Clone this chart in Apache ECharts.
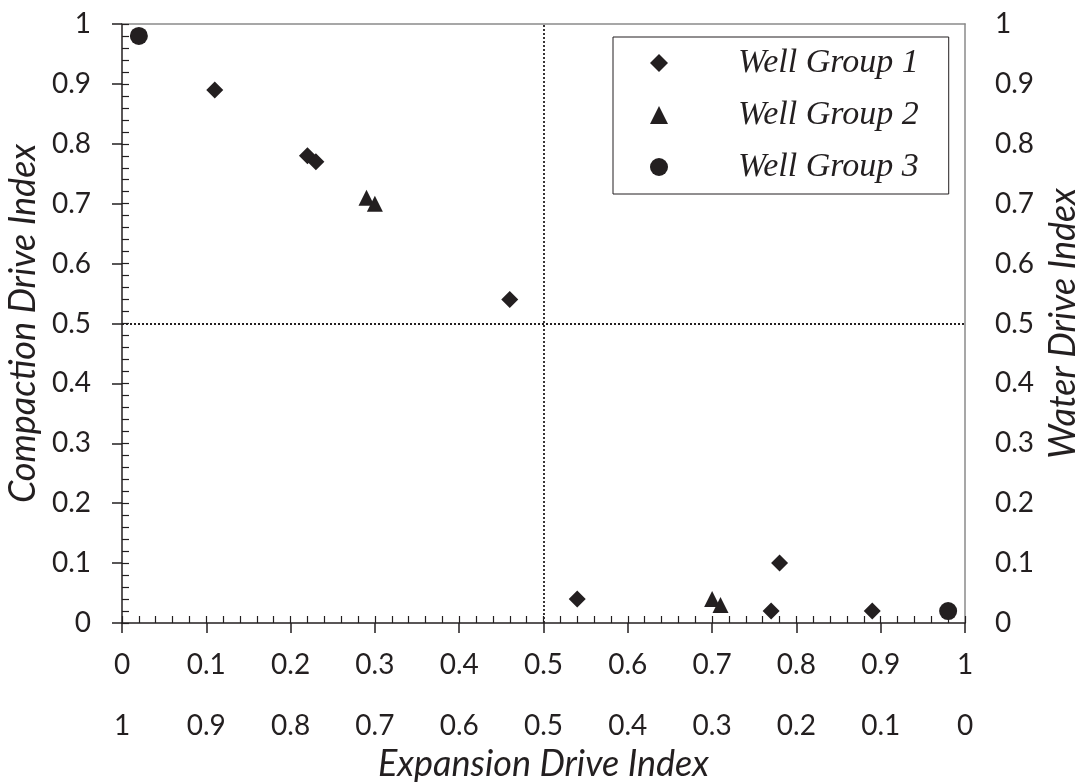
<!DOCTYPE html>
<html>
<head>
<meta charset="utf-8">
<script src="https://cdn.jsdelivr.net/npm/echarts@6/dist/echarts.min.js"></script>
<style>
html,body{margin:0;padding:0;background:#fff;}
#chart{width:1080px;height:783px;}
</style>
</head>
<body>
<div id="chart"></div>
<script>
// ---- data ----
const seriesNames = ['Well Group 1', 'Well Group 2', 'Well Group 3'];
const group1 = [[0.11,0.89],[0.22,0.78],[0.23,0.77],[0.46,0.54],[0.54,0.04],[0.78,0.10],[0.77,0.02],[0.89,0.02]];
const group2 = [[0.29,0.71],[0.30,0.70],[0.70,0.04],[0.71,0.03]];
const group3 = [[0.02,0.98],[0.98,0.02]];
const xTickLabels = ['0','0.1','0.2','0.3','0.4','0.5','0.6','0.7','0.8','0.9','1'];
const xTickLabelsSecondary = ['1','0.9','0.8','0.7','0.6','0.5','0.4','0.3','0.2','0.1','0'];
const yTickLabels = ['0','0.1','0.2','0.3','0.4','0.5','0.6','0.7','0.8','0.9','1'];
const xName = 'Expansion Drive Index';
const yNameLeft = 'Compaction Drive Index';
const yNameRight = 'Water Drive Index';
const threshold = 0.5;

// ---- styles ----
const ink = '#231f20';
const gray = '#8a8a8a';
const sans = 'Lato';
const tickFont = 28;
const nameFont = 36;
const idx = v => Math.round(v * 10);

const chart = echarts.init(document.getElementById('chart'));
const option = {
  animation: false,
  backgroundColor: '#fff',
  grid: { left: 122, top: 24, width: 843, height: 599, containLabel: false, outerBoundsMode: 'none' },
  legend: {
    orient: 'vertical', left: 613, top: 37,
    padding: [9, 30, 10, 37],
    itemWidth: 18, itemHeight: 18, itemGap: 18,
    borderColor: ink, borderWidth: 1,
    data: seriesNames,
    textStyle: {
      fontFamily: 'Liberation Serif', fontStyle: 'italic', fontSize: 34,
      color: ink, lineHeight: 34, padding: [0, 0, 0, 65], width: 180
    }
  },
  xAxis: [
    { // primary bottom axis
      type: 'value', min: 0, max: 1, interval: 0.1, position: 'bottom',
      axisLine: { onZero: false, lineStyle: { color: ink, width: 1.5 } },
      axisTick: { length: 10, lineStyle: { color: ink, width: 1.5 } },
      axisLabel: { margin: 28, fontFamily: sans, fontSize: tickFont, color: ink,
        formatter: v => xTickLabels[idx(v)] },
      splitLine: { show: false }
    },
    { // inside minor ticks
      type: 'value', min: 0, max: 1, interval: 0.02, position: 'bottom',
      axisLine: { show: false, onZero: false },
      axisTick: { inside: true, length: 7, lineStyle: { color: ink, width: 1.2 } },
      axisLabel: { show: false }, splitLine: { show: false }
    },
    { // secondary labels
      type: 'value', min: 0, max: 1, interval: 0.1, position: 'bottom', offset: 61,
      axisLine: { show: false, onZero: false }, axisTick: { show: false },
      axisLabel: { margin: 28, fontFamily: sans, fontSize: tickFont, color: ink,
        formatter: v => xTickLabelsSecondary[idx(v)] },
      splitLine: { show: false },
      name: xName, nameLocation: 'middle', nameGap: 62,
      nameTextStyle: { fontFamily: sans, fontStyle: 'italic', fontSize: nameFont, color: ink }
    },
    { // top border
      type: 'value', min: 0, max: 1, position: 'top',
      axisLine: { onZero: false, lineStyle: { color: gray, width: 1.5 } },
      axisTick: { show: false }, axisLabel: { show: false }, splitLine: { show: false }
    }
  ],
  yAxis: [
    { // left axis
      type: 'value', min: 0, max: 1, interval: 0.1, position: 'left',
      axisLine: { show: true, onZero: false, lineStyle: { color: ink, width: 1.5 } },
      axisTick: { show: true, length: 10, lineStyle: { color: ink, width: 1.5 } },
      axisLabel: { margin: 31, fontFamily: sans, fontSize: tickFont, color: ink,
        formatter: v => yTickLabels[idx(v)] },
      splitLine: { show: false },
      name: yNameLeft, nameLocation: 'middle', nameGap: 77, nameRotate: 90,
      nameTextStyle: { fontFamily: sans, fontStyle: 'italic', fontSize: nameFont, color: ink }
    },
    { // left inside minor ticks
      type: 'value', min: 0, max: 1, interval: 0.02, position: 'left',
      axisLine: { show: false, onZero: false },
      axisTick: { show: true, inside: true, length: 7, lineStyle: { color: ink, width: 1.2 } },
      axisLabel: { show: false }, splitLine: { show: false }
    },
    { // right axis
      type: 'value', min: 0, max: 1, interval: 0.1, position: 'right',
      axisLine: { show: true, onZero: false, lineStyle: { color: gray, width: 1.5 } },
      axisTick: { show: false },
      axisLabel: { margin: 30, fontFamily: sans, fontSize: tickFont, color: ink,
        formatter: v => yTickLabels[idx(v)] },
      splitLine: { show: false },
      name: yNameRight, nameLocation: 'middle', nameGap: 80, nameRotate: 90,
      nameTextStyle: { fontFamily: sans, fontStyle: 'italic', fontSize: nameFont, color: ink }
    }
  ],
  series: [
    {
      name: seriesNames[0], type: 'scatter', data: group1,
      symbol: 'diamond', symbolSize: 17, itemStyle: { color: ink, opacity: 1 },
      markLine: {
        silent: true, symbol: 'none', label: { show: false },
        lineStyle: { color: ink, type: [2, 2], width: 1.8, opacity: 1 },
        data: [{ xAxis: threshold }, { yAxis: threshold }]
      }
    },
    {
      name: seriesNames[1], type: 'scatter', data: group2,
      symbol: 'triangle', symbolSize: 16, itemStyle: { color: ink, opacity: 1 }
    },
    {
      name: seriesNames[2], type: 'scatter', data: group3,
      symbol: 'circle', symbolSize: 18, itemStyle: { color: ink, opacity: 1 }
    }
  ]
};
chart.setOption(option);
</script>
</body>
</html>
